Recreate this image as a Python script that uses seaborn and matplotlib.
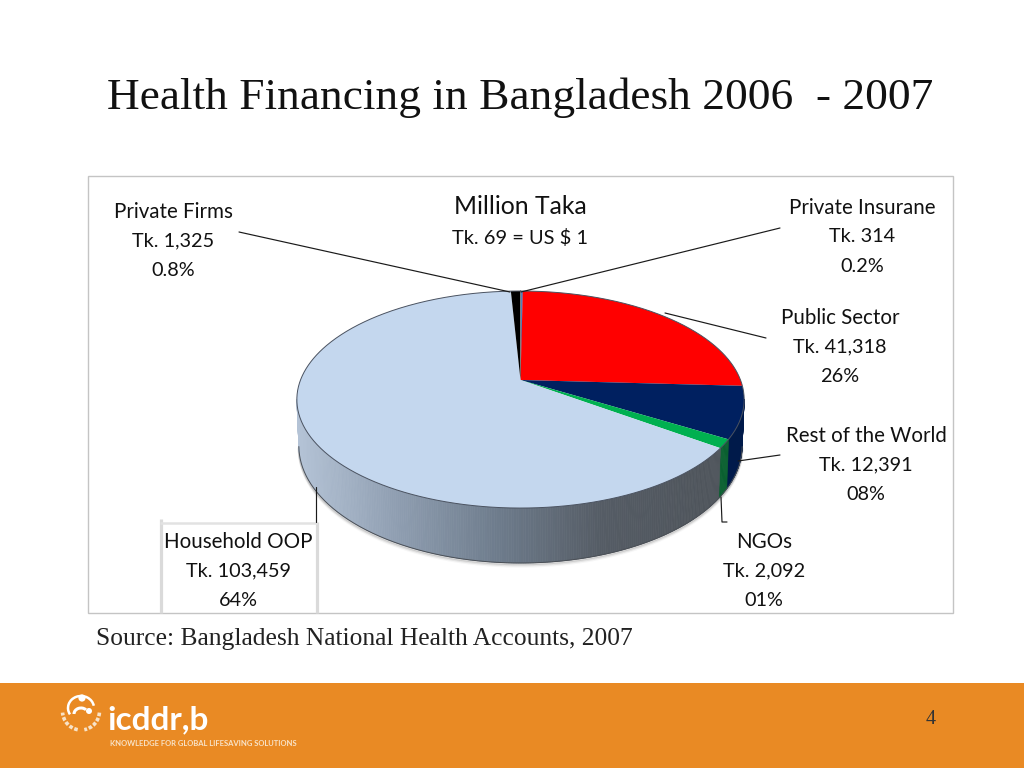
import numpy as np
import pandas as pd
import seaborn as sns
import matplotlib
matplotlib.use("Agg")
import matplotlib.pyplot as plt
from matplotlib.patches import Rectangle, Arc, Circle

categories = ["Private Insurane", "Public Sector", "Rest of the World", "NGOs", "Household OOP", "Private Firms"]
taka = [314, 41318, 12391, 2092, 103459, 1325]
amount_labels = ["Tk. 314", "Tk. 41,318", "Tk. 12,391", "Tk. 2,092", "Tk. 103,459", "Tk. 1,325"]
share_labels = ["0.2%", "26%", "08%", "01%", "64%", "0.8%"]
top_colors = ["#4f81bd", "#ff0000", "#002060", "#00b050", "#c4d7ee", "#000000"]
title = "Health Financing in Bangladesh 2006  - 2007"
source = "Source: Bangladesh National Health Accounts, 2007"

sns.set_theme(style="white")
plt.rcParams["font.family"] = ["Lato", "DejaVu Sans"]
df = pd.DataFrame({"category": categories, "taka": taka, "colour": top_colors})
df["stop"] = df["taka"].cumsum() / df["taka"].sum() * 2 * np.pi
df["start"] = df["stop"].shift(1, fill_value=0.0)

fig = plt.figure(figsize=(10.24, 7.68), dpi=100, facecolor="white")
ax = fig.add_axes([0, 0, 1, 1])
ax.set_xlim(0, 1024)
ax.set_ylim(768, 0)
ax.axis("off")

# slide furniture
ax.add_patch(Rectangle((0, 683), 1024, 85, fc="#e98a24", ec="none", zorder=0))
ax.add_patch(Rectangle((88, 176), 865, 437, fc="white", ec="#c4c4c4", lw=1, zorder=1))
ax.plot([161, 161], [519, 612.5], color="#dadada", lw=2.3, zorder=2, solid_capstyle="butt")
ax.plot([316.5, 316.5], [522, 612.5], color="#dadada", lw=2.3, zorder=2, solid_capstyle="butt")
ax.plot([160, 317], [523, 523], color="#e2e2e2", lw=1.8, zorder=2, solid_capstyle="butt")

# pie geometry: perspective disc projected on screen
APEX_X, APEX_Y, SX, SY, PERSP = 520.5, 380.0, 220.0, 105.0, 0.18


def top_point(t):
    x, y = np.sin(t), np.cos(t)
    w = 1 + PERSP * y
    return APEX_X + SX * x / w, APEX_Y - SY * y / w


A_TOP, B_TOP = SX / np.sqrt(1 - PERSP**2), SY / (1 - PERSP**2)
CY_TOP = APEX_Y + SY * PERSP / (1 - PERSP**2)
A_BOT, B_BOT, CY_BOT = A_TOP - 2.0, 117.0, 446.0


def bottom_point(t):
    px, py = top_point(t)
    c, s = (px - APEX_X) / A_TOP, (py - CY_TOP) / B_TOP
    return APEX_X + A_BOT * c, CY_BOT + B_BOT * s, s


household_ramp = matplotlib.colors.LinearSegmentedColormap.from_list(
    "side", ["#b4c3d6", "#8e9db0", "#6d7b8b", "#555c65", "#4f555c"])
side_flat = {"Rest of the World": "#001a4a", "NGOs": "#0a6030", "Public Sector": "#8a0000"}

# soft shadow just under the side face
all_t = np.linspace(0, 2 * np.pi, 720)
xb, yb, s = bottom_point(all_t)
front = s >= 0
order = np.argsort(xb[front])
for k, alpha in zip([1.2, 2.4, 3.6], [0.16, 0.09, 0.04]):
    ax.plot(xb[front][order], yb[front][order] + k, color="#303030", lw=1.6, alpha=alpha, zorder=2.5)

for _, row in df.iterrows():
    ts = np.linspace(row["start"], row["stop"], max(3, int((row["stop"] - row["start"]) * 110)))
    xt, yt = top_point(ts)
    xb2, yb2, s2 = bottom_point(ts)
    for i in range(len(ts) - 1):
        if s2[i] < 0 and s2[i + 1] < 0:
            continue
        if row["category"] == "Household OOP":
            col = household_ramp((0.5 * (xt[i] + xt[i + 1]) - 297) / 406)
        else:
            col = side_flat.get(row["category"], row["colour"])
        ax.fill([xt[i], xt[i + 1], xb2[i + 1], xb2[i]], [yt[i], yt[i + 1], yb2[i + 1], yb2[i]],
                fc=col, ec=col, lw=0.5, zorder=3)

# outline of the side and top faces
ax.plot(xb[front][order], yb[front][order], color="#4a4f56", lw=0.7, zorder=4)
for _, row in df.iterrows():
    ts = np.linspace(row["start"], row["stop"], 200)
    xt, yt = top_point(ts)
    ax.fill(np.r_[APEX_X, xt], np.r_[APEX_Y, yt], fc=row["colour"], ec="none", zorder=5)
xt, yt = top_point(all_t)
ax.plot(xt, yt, color="#4a5260", lw=0.7, zorder=6)

# leader lines
leaders = [([239, 510], [232, 292]), ([780, 521], [228, 292]), ([766, 665], [338, 313]),
           ([780, 738], [455, 461]), ([727, 722, 721], [522, 522, 497]), ([316, 316], [522, 487])]
for lx, ly in leaders:
    ax.plot(lx, ly, color="#1a1a1a", lw=0.85, zorder=7)

# labels
name_font = dict(fontsize=14.8, color="#111111", ha="center", va="center", zorder=8)
value_font = dict(fontsize=14.3, color="#111111", ha="center", va="center", zorder=8)
label_pos = {"Private Firms": (173, 212), "Private Insurane": (862, 208), "Public Sector": (840, 318),
             "Rest of the World": (866, 436), "NGOs": (764, 542), "Household OOP": (238.5, 542)}
for name, amt, pct in zip(categories, amount_labels, share_labels):
    lx, ly = label_pos[name]
    ax.text(lx, ly, name, **name_font)
    ax.text(lx, ly + 29, amt, **value_font)
    ax.text(lx, ly + 58, pct, **value_font)
ax.text(520.5, 206, "Million Taka", fontsize=17.8, color="#111111", ha="center", va="center", zorder=8)
ax.text(520.5, 238, "Tk. 69 = US $ 1", fontsize=14.4, color="#111111", ha="center", va="center", zorder=8)

serif = ["Liberation Serif", "DejaVu Serif"]
ax.text(107, 98, title, family=serif, fontsize=32.7, color="#111111", ha="left", va="center", zorder=8)
ax.text(96, 639, source, family=serif, fontsize=18.4, color="#222222", ha="left", va="center", zorder=8)
ax.text(931, 719, "4", family=serif, fontsize=14.5, color="#333333", ha="center", va="center", zorder=8)

# footer logo
ax.text(107, 729, "icddr,b", fontsize=24, fontweight="bold", color="white", ha="left", va="baseline", zorder=8)
ax.text(110, 744, "KNOWLEDGE FOR GLOBAL LIFESAVING SOLUTIONS", fontsize=5.5, fontweight="bold",
        color="#f8e3c8", ha="left", va="center", zorder=8)
ax.add_patch(Circle((82, 698), 3.6, fc="white", ec="none", zorder=8))
ax.add_patch(Circle((89, 711), 3.0, fc="white", ec="none", zorder=8))
ax.add_patch(Arc((81, 708), 26, 24, theta1=150, theta2=350, color="white", lw=1.8, zorder=8))
ax.add_patch(Arc((81, 714), 14, 12, theta1=180, theta2=320, color="white", lw=2.2, zorder=8))
ax.add_patch(Arc((81, 711), 37, 38, theta1=5, theta2=80, color="#f8e3c8", lw=2.6, ls=(0, (1, 0.5)), zorder=8))
ax.add_patch(Arc((81, 711), 37, 38, theta1=100, theta2=175, color="#f8e3c8", lw=2.6, ls=(0, (1, 0.5)), zorder=8))

fig.savefig("out.png", dpi=100, facecolor="white")
